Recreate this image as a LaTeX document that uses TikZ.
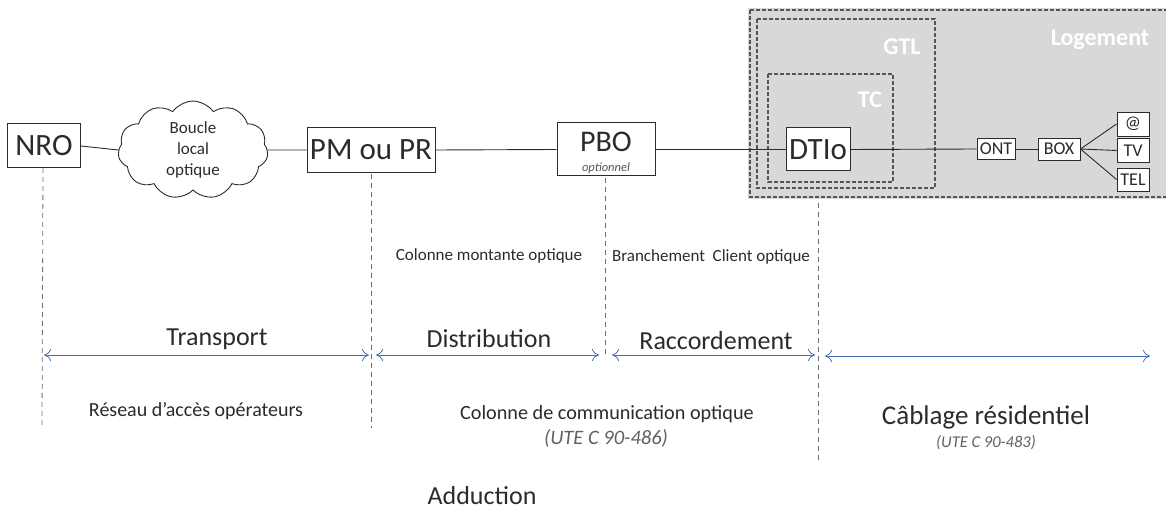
\documentclass[tikz,border=0pt]{standalone}
\usepackage{fontspec}
\setmainfont{Carlito}
\usetikzlibrary{shapes.symbols,arrows.meta}
\definecolor{ink}{HTML}{2B2B2B}
\definecolor{arrowblue}{HTML}{4A6DB5}
\definecolor{zonegray}{HTML}{D8D8D8}
\definecolor{guide}{HTML}{6E6E6E}
\tikzset{
  unit/.style={draw=ink,line width=1pt,text=ink,inner sep=0pt,align=center},
  smallunit/.style={draw=ink,line width=0.9pt,text=ink,inner sep=0pt,font=\fontsize{18}{20}\selectfont},
  link/.style={draw=ink,line width=0.9pt},
  zone/.style={draw=ink!80,line width=1.1pt,dash pattern=on 4pt off 2pt},
  guideline/.style={draw=guide,line width=0.8pt,dash pattern=on 5pt off 4pt},
  span/.style={draw=arrowblue,line width=0.8pt,{To[length=7pt,width=12pt]}-{To[length=7pt,width=12pt]}},
  lbl/.style={text=ink,inner sep=0pt},
  ghost/.style={text=white,inner sep=0pt,font=\fontsize{24}{26}\selectfont\bfseries}
}
\begin{document}
\begin{tikzpicture}[x=1pt,y=-1pt]
\useasboundingbox (0,0) rectangle (1166,510);

% residential area (Logement) with nested GTL and TC zones
\fill[zonegray] (748,8) rectangle (1166,199);
\draw[zone] (750,10) rectangle (1168,197);
\draw[zone] (757,19) rectangle (935,188);
\draw[zone] (768,74) rectangle (893,182);
\node[ghost] (logement) at (1100,40) {Logement};
\node[ghost] (gtl) at (902,47) {GTL};
\node[ghost] (tc) at (870,100) {TC};

% network elements
\node[unit,minimum width=73pt,minimum height=44pt,font=\fontsize{31}{32}\selectfont] (nro) at (44,146) {NRO};
\node[cloud,cloud puffs=11,cloud puff arc=110,aspect=1.8,draw=ink,line width=0.9pt,
      minimum width=150pt,minimum height=84pt,inner sep=0pt,align=center,text=ink,
      font=\fontsize{17}{21}\selectfont] (blo) at (193,150) {Boucle\\local\\optique};
\node[unit,minimum width=128pt,minimum height=45pt,font=\fontsize{31}{32}\selectfont] (pm) at (371,150) {PM ou PR};
\node[unit,minimum width=98pt,minimum height=53pt] (pbo) at (606,149.5) {};
\node[lbl,font=\fontsize{30}{31}\selectfont] (pbot) at (606,142) {PBO};
\node[lbl,font=\fontsize{12.5}{13}\selectfont\itshape,text=ink!80] (opt) at (606,168.5) {optionnel};
\node[unit,fill=white,minimum width=64pt,minimum height=43pt,font=\fontsize{31}{32}\selectfont] (dtio) at (818,149.5) {DTIo};
\node[smallunit,fill=white,minimum width=38pt,minimum height=21pt] (ont) at (996,149) {ONT};
\node[smallunit,fill=white,minimum width=42pt,minimum height=22pt] (box) at (1059,149) {BOX};
\node[smallunit,fill=white,minimum width=32pt,minimum height=24pt] (web) at (1133,124) {@};
\node[smallunit,fill=white,minimum width=32pt,minimum height=24pt] (tv) at (1133,150.5) {TV};
\node[smallunit,fill=white,minimum width=32pt,minimum height=23pt] (tel) at (1133,179.5) {TEL};

% fibre links
\draw[link] (nro.east) -- (blo.west);
\draw[link] (blo.east) -- (pm.west);
\draw[link] (pm.east) -- (pbo.west);
\draw[link] (pbo.east) -- (dtio.west);
\draw[link] (dtio.east) -- (ont.west);
\draw[link] (ont.east) -- (box.west);
\draw[link] (box.east) -- (web.west);
\draw[link] (box.east) -- (tv.west);
\draw[link] (box.east) -- (tel.west);

% boundaries between network segments
\coordinate (g1a) at (43,168);  \coordinate (g1b) at (42,428);
\coordinate (g2a) at (371,174); \coordinate (g2b) at (371,428);
\coordinate (g3a) at (605,178); \coordinate (g3b) at (605,358);
\coordinate (g4a) at (818,203); \coordinate (g4b) at (818,462);
\draw[guideline] (g1a) -- (g1b);
\draw[guideline] (g2a) -- (g2b);
\draw[guideline] (g3a) -- (g3b);
\draw[guideline] (g4a) -- (g4b);

% segment extents
\coordinate (s1a) at (44,355);  \coordinate (s1b) at (369,355);
\coordinate (s2a) at (376,355); \coordinate (s2b) at (599,355);
\coordinate (s3a) at (612,355); \coordinate (s3b) at (815,355);
\coordinate (s4a) at (825,356); \coordinate (s4b) at (1150,356);
\draw[span] (s1a) -- (s1b);
\draw[span] (s2a) -- (s2b);
\draw[span] (s3a) -- (s3b);
\draw[span] (s4a) -- (s4b);

% segment names
\node[lbl,font=\fontsize{26}{28}\selectfont] (transport) at (217,339) {Transport};
\node[lbl,font=\fontsize{26}{28}\selectfont] (distribution) at (489,339) {Distribution};
\node[lbl,font=\fontsize{26}{28}\selectfont] (raccord) at (716,341) {Raccordement};

% cable names
\node[lbl,font=\fontsize{17}{19}\selectfont] (cmo) at (489,256) {Colonne montante optique};
\node[lbl,font=\fontsize{17}{19}\selectfont] (bco) at (711,257) {Branchement\ \ Client optique};

% standards and scopes
\node[lbl,font=\fontsize{20}{22}\selectfont] (rao) at (196,411) {Réseau d’accès opérateurs};
\node[lbl,font=\fontsize{20.2}{22}\selectfont] (cco) at (607,414) {Colonne de communication optique};
\node[lbl,font=\fontsize{20.5}{22}\selectfont\itshape,text=ink!75] (ute486) at (606,438) {(UTE C 90-486)};
\node[lbl,font=\fontsize{27}{29}\selectfont] (cab) at (986,417) {Câblage résidentiel};
\node[lbl,font=\fontsize{16.5}{18}\selectfont\itshape,text=ink!75] (ute483) at (986,443) {(UTE C 90-483)};
\node[lbl,font=\fontsize{26}{28}\selectfont,anchor=base] (adduction) at (482,504) {Adduction};
\end{tikzpicture}
\end{document}
